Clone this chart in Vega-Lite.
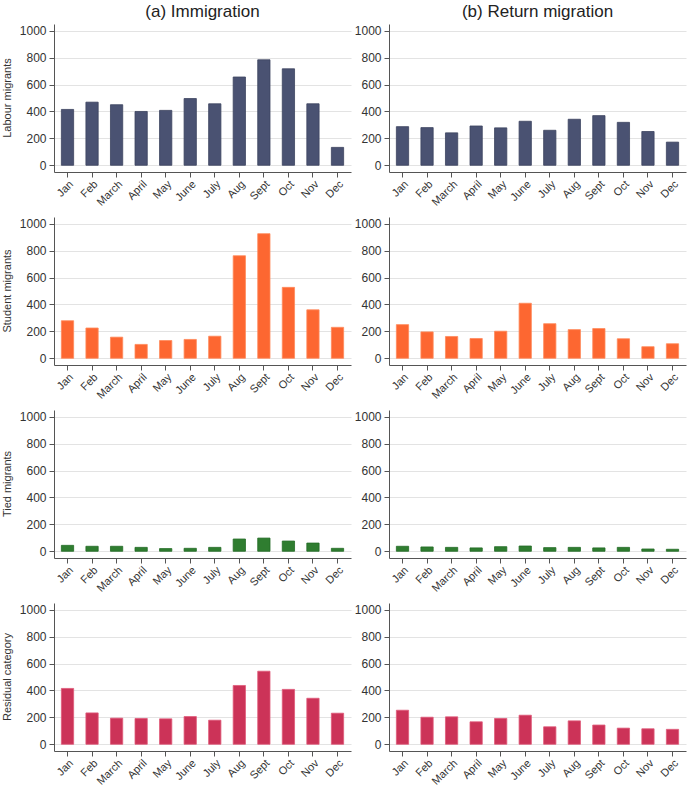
{
  "$schema": "https://vega.github.io/schema/vega-lite/v6.json",
  "padding": {"top": 3, "left": 1, "right": 1, "bottom": 0},
  "background": "white",
  "data": {"values": [
    {"dir": "(a) Immigration", "category": "Labour migrants", "month": "Jan", "value": 415},
    {"dir": "(a) Immigration", "category": "Labour migrants", "month": "Feb", "value": 469},
    {"dir": "(a) Immigration", "category": "Labour migrants", "month": "March", "value": 450},
    {"dir": "(a) Immigration", "category": "Labour migrants", "month": "April", "value": 400},
    {"dir": "(a) Immigration", "category": "Labour migrants", "month": "May", "value": 408},
    {"dir": "(a) Immigration", "category": "Labour migrants", "month": "June", "value": 496},
    {"dir": "(a) Immigration", "category": "Labour migrants", "month": "July", "value": 457},
    {"dir": "(a) Immigration", "category": "Labour migrants", "month": "Aug", "value": 656},
    {"dir": "(a) Immigration", "category": "Labour migrants", "month": "Sept", "value": 784},
    {"dir": "(a) Immigration", "category": "Labour migrants", "month": "Oct", "value": 717},
    {"dir": "(a) Immigration", "category": "Labour migrants", "month": "Nov", "value": 457},
    {"dir": "(a) Immigration", "category": "Labour migrants", "month": "Dec", "value": 133},
    {"dir": "(b) Return migration", "category": "Labour migrants", "month": "Jan", "value": 287},
    {"dir": "(b) Return migration", "category": "Labour migrants", "month": "Feb", "value": 280},
    {"dir": "(b) Return migration", "category": "Labour migrants", "month": "March", "value": 241},
    {"dir": "(b) Return migration", "category": "Labour migrants", "month": "April", "value": 292},
    {"dir": "(b) Return migration", "category": "Labour migrants", "month": "May", "value": 278},
    {"dir": "(b) Return migration", "category": "Labour migrants", "month": "June", "value": 327},
    {"dir": "(b) Return migration", "category": "Labour migrants", "month": "July", "value": 260},
    {"dir": "(b) Return migration", "category": "Labour migrants", "month": "Aug", "value": 342},
    {"dir": "(b) Return migration", "category": "Labour migrants", "month": "Sept", "value": 369},
    {"dir": "(b) Return migration", "category": "Labour migrants", "month": "Oct", "value": 319},
    {"dir": "(b) Return migration", "category": "Labour migrants", "month": "Nov", "value": 251},
    {"dir": "(b) Return migration", "category": "Labour migrants", "month": "Dec", "value": 172},
    {"dir": "(a) Immigration", "category": "Student migrants", "month": "Jan", "value": 279},
    {"dir": "(a) Immigration", "category": "Student migrants", "month": "Feb", "value": 225},
    {"dir": "(a) Immigration", "category": "Student migrants", "month": "March", "value": 157},
    {"dir": "(a) Immigration", "category": "Student migrants", "month": "April", "value": 103},
    {"dir": "(a) Immigration", "category": "Student migrants", "month": "May", "value": 132},
    {"dir": "(a) Immigration", "category": "Student migrants", "month": "June", "value": 140},
    {"dir": "(a) Immigration", "category": "Student migrants", "month": "July", "value": 164},
    {"dir": "(a) Immigration", "category": "Student migrants", "month": "Aug", "value": 762},
    {"dir": "(a) Immigration", "category": "Student migrants", "month": "Sept", "value": 926},
    {"dir": "(a) Immigration", "category": "Student migrants", "month": "Oct", "value": 527},
    {"dir": "(a) Immigration", "category": "Student migrants", "month": "Nov", "value": 360},
    {"dir": "(a) Immigration", "category": "Student migrants", "month": "Dec", "value": 230},
    {"dir": "(b) Return migration", "category": "Student migrants", "month": "Jan", "value": 250},
    {"dir": "(b) Return migration", "category": "Student migrants", "month": "Feb", "value": 196},
    {"dir": "(b) Return migration", "category": "Student migrants", "month": "March", "value": 162},
    {"dir": "(b) Return migration", "category": "Student migrants", "month": "April", "value": 147},
    {"dir": "(b) Return migration", "category": "Student migrants", "month": "May", "value": 201},
    {"dir": "(b) Return migration", "category": "Student migrants", "month": "June", "value": 409},
    {"dir": "(b) Return migration", "category": "Student migrants", "month": "July", "value": 257},
    {"dir": "(b) Return migration", "category": "Student migrants", "month": "Aug", "value": 213},
    {"dir": "(b) Return migration", "category": "Student migrants", "month": "Sept", "value": 221},
    {"dir": "(b) Return migration", "category": "Student migrants", "month": "Oct", "value": 145},
    {"dir": "(b) Return migration", "category": "Student migrants", "month": "Nov", "value": 86},
    {"dir": "(b) Return migration", "category": "Student migrants", "month": "Dec", "value": 108},
    {"dir": "(a) Immigration", "category": "Tied migrants", "month": "Jan", "value": 44},
    {"dir": "(a) Immigration", "category": "Tied migrants", "month": "Feb", "value": 37},
    {"dir": "(a) Immigration", "category": "Tied migrants", "month": "March", "value": 37},
    {"dir": "(a) Immigration", "category": "Tied migrants", "month": "April", "value": 29},
    {"dir": "(a) Immigration", "category": "Tied migrants", "month": "May", "value": 20},
    {"dir": "(a) Immigration", "category": "Tied migrants", "month": "June", "value": 22},
    {"dir": "(a) Immigration", "category": "Tied migrants", "month": "July", "value": 29},
    {"dir": "(a) Immigration", "category": "Tied migrants", "month": "Aug", "value": 91},
    {"dir": "(a) Immigration", "category": "Tied migrants", "month": "Sept", "value": 98},
    {"dir": "(a) Immigration", "category": "Tied migrants", "month": "Oct", "value": 76},
    {"dir": "(a) Immigration", "category": "Tied migrants", "month": "Nov", "value": 61},
    {"dir": "(a) Immigration", "category": "Tied migrants", "month": "Dec", "value": 22},
    {"dir": "(b) Return migration", "category": "Tied migrants", "month": "Jan", "value": 37},
    {"dir": "(b) Return migration", "category": "Tied migrants", "month": "Feb", "value": 32},
    {"dir": "(b) Return migration", "category": "Tied migrants", "month": "March", "value": 29},
    {"dir": "(b) Return migration", "category": "Tied migrants", "month": "April", "value": 25},
    {"dir": "(b) Return migration", "category": "Tied migrants", "month": "May", "value": 34},
    {"dir": "(b) Return migration", "category": "Tied migrants", "month": "June", "value": 39},
    {"dir": "(b) Return migration", "category": "Tied migrants", "month": "July", "value": 27},
    {"dir": "(b) Return migration", "category": "Tied migrants", "month": "Aug", "value": 29},
    {"dir": "(b) Return migration", "category": "Tied migrants", "month": "Sept", "value": 25},
    {"dir": "(b) Return migration", "category": "Tied migrants", "month": "Oct", "value": 29},
    {"dir": "(b) Return migration", "category": "Tied migrants", "month": "Nov", "value": 17},
    {"dir": "(b) Return migration", "category": "Tied migrants", "month": "Dec", "value": 15},
    {"dir": "(a) Immigration", "category": "Residual category", "month": "Jan", "value": 415},
    {"dir": "(a) Immigration", "category": "Residual category", "month": "Feb", "value": 233},
    {"dir": "(a) Immigration", "category": "Residual category", "month": "March", "value": 194},
    {"dir": "(a) Immigration", "category": "Residual category", "month": "April", "value": 192},
    {"dir": "(a) Immigration", "category": "Residual category", "month": "May", "value": 189},
    {"dir": "(a) Immigration", "category": "Residual category", "month": "June", "value": 206},
    {"dir": "(a) Immigration", "category": "Residual category", "month": "July", "value": 179},
    {"dir": "(a) Immigration", "category": "Residual category", "month": "Aug", "value": 437},
    {"dir": "(a) Immigration", "category": "Residual category", "month": "Sept", "value": 543},
    {"dir": "(a) Immigration", "category": "Residual category", "month": "Oct", "value": 408},
    {"dir": "(a) Immigration", "category": "Residual category", "month": "Nov", "value": 342},
    {"dir": "(a) Immigration", "category": "Residual category", "month": "Dec", "value": 231},
    {"dir": "(b) Return migration", "category": "Residual category", "month": "Jan", "value": 253},
    {"dir": "(b) Return migration", "category": "Residual category", "month": "Feb", "value": 201},
    {"dir": "(b) Return migration", "category": "Residual category", "month": "March", "value": 204},
    {"dir": "(b) Return migration", "category": "Residual category", "month": "April", "value": 167},
    {"dir": "(b) Return migration", "category": "Residual category", "month": "May", "value": 192},
    {"dir": "(b) Return migration", "category": "Residual category", "month": "June", "value": 216},
    {"dir": "(b) Return migration", "category": "Residual category", "month": "July", "value": 130},
    {"dir": "(b) Return migration", "category": "Residual category", "month": "Aug", "value": 174},
    {"dir": "(b) Return migration", "category": "Residual category", "month": "Sept", "value": 143},
    {"dir": "(b) Return migration", "category": "Residual category", "month": "Oct", "value": 120},
    {"dir": "(b) Return migration", "category": "Residual category", "month": "Nov", "value": 115},
    {"dir": "(b) Return migration", "category": "Residual category", "month": "Dec", "value": 111}
  ]},
  "facet": {
    "row": {
      "field": "category", "type": "nominal",
      "sort": ["Labour migrants", "Student migrants", "Tied migrants", "Residual category"],
      "header": {"title": null, "labelOrient": "left", "labelAngle": -90, "labelAlign": "center", "labelFontSize": 11, "labelPadding": 0, "labelColor": "#333"}
    },
    "column": {
      "field": "dir", "type": "nominal",
      "header": {"title": null, "labelFontSize": 17, "labelPadding": 3, "labelColor": "#222"}
    }
  },
  "spacing": {"row": 9, "column": 3},
  "resolve": {"axis": {"x": "independent", "y": "independent"}},
  "spec": {
    "width": 297,
    "height": 148,
    "mark": {"type": "bar", "strokeWidth": 0.8},
    "encoding": {
      "x": {
        "field": "month", "type": "ordinal",
        "sort": ["Jan", "Feb", "March", "April", "May", "June", "July", "Aug", "Sept", "Oct", "Nov", "Dec"],
        "scale": {"paddingInner": 0.5, "paddingOuter": 0.3},
        "axis": {"title": null, "labelAngle": -45, "labelFontSize": 11, "labelColor": "#333", "domainColor": "#555", "tickColor": "#555", "tickSize": 5, "labelPadding": 1}
      },
      "y": {
        "field": "value", "type": "quantitative",
        "scale": {"domain": [-50, 1050], "nice": false, "zero": false},
        "axis": {"title": null, "values": [0, 200, 400, 600, 800, 1000], "format": "d", "labelFontSize": 12, "labelColor": "#333", "domainColor": "#555", "tickColor": "#555", "tickSize": 5, "grid": true, "gridColor": "#e3e3e3", "labelPadding": 3}
      },
      "y2": {"datum": 0},
      "color": {
        "field": "category", "type": "nominal", "legend": null,
        "scale": {"domain": ["Labour migrants", "Student migrants", "Tied migrants", "Residual category"], "range": ["#4a5272", "#fd6731", "#2f7d30", "#cc3358"]}
      },
      "stroke": {
        "field": "category", "type": "nominal", "legend": null,
        "scale": {"domain": ["Labour migrants", "Student migrants", "Tied migrants", "Residual category"], "range": ["#3c4460", "#ff8a5c", "#226b25", "#e05a7a"]}
      }
    }
  },
  "config": {
    "font": "Liberation Sans",
    "view": {"stroke": null},
    "axis": {"labelFont": "Liberation Sans"},
    "header": {"labelFont": "Liberation Sans"}
  }
}
